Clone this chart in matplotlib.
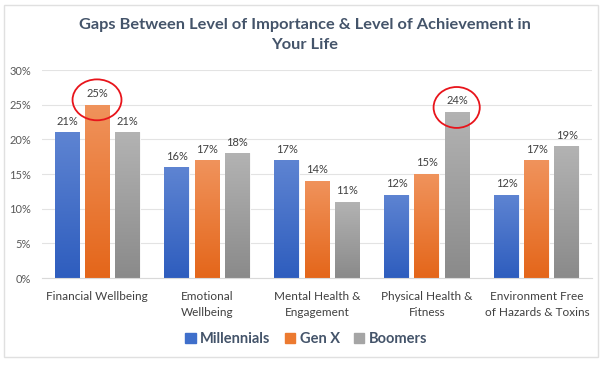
import matplotlib
matplotlib.use("Agg")
import matplotlib.pyplot as plt
import numpy as np
from matplotlib.patches import Ellipse, Rectangle
from matplotlib.colors import LinearSegmentedColormap

categories = ["Financial Wellbeing", "Emotional\nWellbeing", "Mental Health &\nEngagement",
              "Physical Health &\nFitness", "Environment Free\nof Hazards & Toxins"]
series_names = ["Millennials", "Gen X", "Boomers"]
millennials = [21, 16, 17, 12, 12]
genx = [25, 17, 14, 15, 17]
boomers = [21, 18, 11, 24, 19]
yticks = [0, 5, 10, 15, 20, 25, 30]

series = [millennials, genx, boomers]
top_colors = ["#5E84D2", "#F0935C", "#B3B3B3"]
bot_colors = ["#2E5DBE", "#E4661A", "#8A8A8A"]
legend_colors = ["#3F6FCB", "#EC7A30", "#A5A5A5"]

plt.rcParams['font.family'] = ['Lato', 'DejaVu Sans']

fig = plt.figure(figsize=(6.09, 3.67), dpi=100)
ax = fig.add_axes([0.069, 0.2425, 0.903, 0.5667])

x = np.arange(len(categories))
width = 0.227
offsets = [-0.273, 0, 0.273]

grad = np.linspace(1, 0, 256).reshape(-1, 1)
for i, (vals, tc, bc) in enumerate(zip(series, top_colors, bot_colors)):
    cmap = LinearSegmentedColormap.from_list(f"g{i}", [bc, tc])
    bars = ax.bar(x + offsets[i], vals, width, color=tc, edgecolor="white", linewidth=0.6, zorder=2)
    for b, v in zip(bars, vals):
        x0, y0 = b.get_x(), b.get_y()
        w, h = b.get_width(), b.get_height()
        im = ax.imshow(grad, extent=[x0, x0 + w, y0, y0 + h], aspect="auto", cmap=cmap,
                       origin="upper", zorder=2.1)
        im.set_clip_path(b)
        ax.text(x0 + w / 2, v + 0.8, f"{v}%", ha="center", va="bottom", fontsize=8,
                color="#404040", zorder=4)

ax.set_xlim(-0.5, 4.5)
ax.set_ylim(0, 30)
ax.set_yticks(yticks)
ax.set_yticklabels([f"{t}%" for t in yticks], fontsize=8, color="#595959")
ax.set_xticks(x)
ax.set_xticklabels(categories, fontsize=8.5, color="#404040", linespacing=1.6)
ax.tick_params(axis="both", length=0)
ax.tick_params(axis="x", pad=9)
ax.tick_params(axis="y", pad=8)
ax.grid(axis="y", color="#E3E3E3", linewidth=0.8, zorder=0)
ax.set_axisbelow(True)
for s in ["top", "right", "left"]:
    ax.spines[s].set_visible(False)
ax.spines["bottom"].set_color("#D9D9D9")

# highlight circles
ax.add_patch(Ellipse((0, 25.7), 0.445, 5.9, fill=False, edgecolor="#E8141B", linewidth=1.3, zorder=5, clip_on=False))
ax.add_patch(Ellipse((3.27, 24.6), 0.42, 5.9, fill=False, edgecolor="#E8141B", linewidth=1.3, zorder=5, clip_on=False))

fig.text(0.5, 0.905, "Gaps Between Level of Importance & Level of Achievement in\nYour Life",
         ha="center", va="center", fontsize=11.8, fontweight="bold", color="#44546A", linespacing=1.55)

handles = [Rectangle((0, 0), 1, 1, color=c) for c in legend_colors]
fig.legend(handles, series_names, loc="center", bbox_to_anchor=(0.503, 0.075), ncol=3, frameon=False,
           prop={"weight": "bold", "size": 10.5}, labelcolor="#44546A", handlelength=0.7,
           handleheight=0.7, handletextpad=0.3, columnspacing=1.0)

fig.patches.append(Rectangle((4 / 609, 1 - 357 / 367), 594 / 609, 352 / 367, transform=fig.transFigure,
                             fill=False, edgecolor="#E0E0E0", linewidth=1.0))

fig.savefig("out.png", dpi=100, facecolor="white")
